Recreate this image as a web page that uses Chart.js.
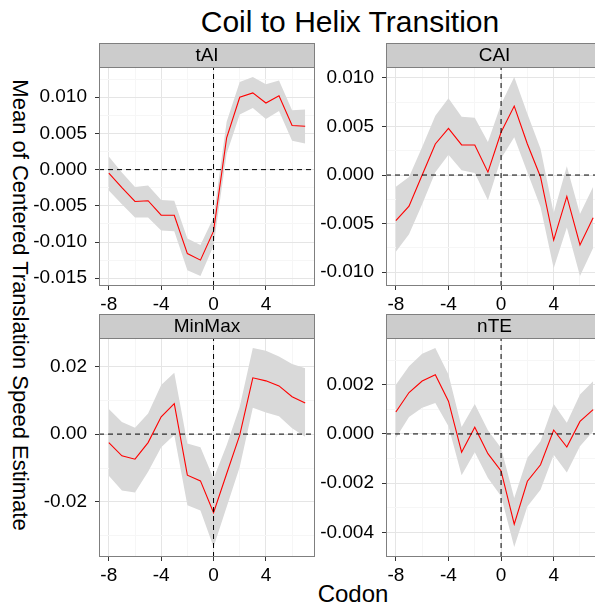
<!DOCTYPE html>
<html>
<head>
<meta charset="utf-8">
<script src="https://cdn.jsdelivr.net/npm/chart.js@4.4.0/dist/chart.umd.min.js"></script>
<style>
  html, body { margin: 0; padding: 0; background: #fff; }
  body { width: 595px; height: 606px; overflow: hidden; position: relative; }
  canvas { position: absolute; }
  .lbl { position: absolute; font-family: 'Liberation Sans', Arial, Helvetica, sans-serif; color: #000; white-space: nowrap; }
</style>
</head>
<body>
<div class="lbl" style="left:350px; top:7px; font-size:30px; line-height:30px; transform:translateX(-50%);">Coil to Helix Transition</div>
<div class="lbl" style="left:20px; top:305px; font-size:22px; line-height:22px; transform:translate(-50%,-50%) rotate(90deg);">Mean of Centered Translation Speed Estimate</div>
<div class="lbl" style="left:353px; top:582px; font-size:24px; line-height:24px; transform:translateX(-50%);">Codon</div>

<canvas id="pTAI"    width="315" height="272" style="left:0px;   top:42px;"></canvas>
<canvas id="pCAI"    width="287" height="272" style="left:316px; top:42px;"></canvas>
<canvas id="pMinMax" width="315" height="272" style="left:0px;   top:313px;"></canvas>
<canvas id="pNTE"    width="287" height="272" style="left:316px; top:313px;"></canvas>

<script>
// Codon positions relative to the transition point
const codons = [-8, -7, -6, -5, -4, -3, -2, -1, 0, 1, 2, 3, 4, 5, 6, 7];
const xTicks = [-8, -4, 0, 4];
const xTickLabels = ['-8', '-4', '0', '4'];

// tAI
const tAIMean  = [-0.0005, -0.0025, -0.0044, -0.0043, -0.0063, -0.0063, -0.0116, -0.0125, -0.0085, 0.0044, 0.0100, 0.0106, 0.0092, 0.0102, 0.0061, 0.0060];
const tAIUpper = [0.0018, -0.0004, -0.0024, -0.0022, -0.0042, -0.0043, -0.0095, -0.0104, -0.0066, 0.0066, 0.0121, 0.0128, 0.0118, 0.0123, 0.0082, 0.0083];
const tAILower = [-0.0029, -0.0048, -0.0066, -0.0066, -0.0084, -0.0085, -0.0139, -0.0147, -0.0105, 0.0022, 0.0076, 0.0085, 0.0070, 0.0081, 0.0040, 0.0036];
const tAITicks  = [-0.015, -0.010, -0.005, 0.000, 0.005, 0.010];
const tAILabels = ['-0.015', '-0.010', '-0.005', '0.000', '0.005', '0.010'];

// CAI
const CAIMean  = [-0.0047, -0.0032, 0.0000, 0.0032, 0.0048, 0.0031, 0.0031, 0.0003, 0.0044, 0.0071, 0.0032, -0.0002, -0.0067, -0.0022, -0.0072, -0.0044];
const CAIUpper = [-0.0012, -0.0002, 0.0029, 0.0061, 0.0079, 0.0060, 0.0059, 0.0034, 0.0073, 0.0101, 0.0063, 0.0027, -0.0039, 0.0009, -0.0040, -0.0012];
const CAILower = [-0.0079, -0.0061, -0.0030, 0.0003, 0.0021, 0.0005, 0.0002, -0.0026, 0.0017, 0.0039, 0.0003, -0.0033, -0.0096, -0.0054, -0.0104, -0.0075];
const CAITicks  = [-0.010, -0.005, 0.000, 0.005, 0.010];
const CAILabels = ['-0.010', '-0.005', '0.000', '0.005', '0.010'];

// MinMax
const minMaxMean  = [-0.0025, -0.0064, -0.0074, -0.0025, 0.0051, 0.0090, -0.0121, -0.0138, -0.0232, -0.0117, -0.0003, 0.0166, 0.0157, 0.0142, 0.0110, 0.0092];
const minMaxUpper = [0.0074, 0.0036, 0.0019, 0.0061, 0.0145, 0.0181, -0.0028, -0.0039, -0.0131, -0.0033, 0.0081, 0.0254, 0.0246, 0.0229, 0.0207, 0.0194];
const minMaxLower = [-0.0123, -0.0166, -0.0172, -0.0111, -0.0039, -0.0003, -0.0210, -0.0225, -0.0333, -0.0215, -0.0097, 0.0078, 0.0064, 0.0053, 0.0017, -0.0008];
const minMaxTicks  = [-0.02, 0.00, 0.02];
const minMaxLabels = ['-0.02', '0.00', '0.02'];

// nTE
const nTEMean  = [0.00089, 0.00168, 0.00215, 0.00240, 0.00133, -0.00074, 0.00027, -0.00080, -0.00150, -0.00366, -0.00192, -0.00125, 0.00016, -0.00053, 0.00051, 0.00099];
const nTEUpper = [0.00200, 0.00275, 0.00325, 0.00349, 0.00241, 0.00028, 0.00122, 0.00015, -0.00057, -0.00260, -0.00097, -0.00030, 0.00122, 0.00045, 0.00160, 0.00214];
const nTELower = [-0.00016, 0.00069, 0.00106, 0.00126, 0.00031, -0.00168, -0.00074, -0.00179, -0.00253, -0.00459, -0.00294, -0.00226, -0.00084, -0.00156, -0.00050, 0.00011];
const nTETicks  = [-0.004, -0.002, 0.000, 0.002];
const nTELabels = ['-0.004', '-0.002', '0.000', '0.002'];

const FONT = "'Liberation Sans', Arial, Helvetica, sans-serif";
const RIBBON = '#d9d9d9';
const GRID_MAJOR = '#e5e5e5';
const GRID_MINOR = '#f6f6f6';
const FRAME = '#7f7f7f';
const STRIP_FILL = '#cccccc';
const STRIP_H = 24;

// ggplot-style 5% padding on a continuous range
function expand(lo, hi) {
  const d = hi - lo;
  return [lo - 0.05 * d, hi + 0.05 * d];
}

// Major ticks carry a label, minor ticks sit halfway between them
function tickList(major, labels, lo, hi) {
  const step = major[1] - major[0];
  const out = major.map((v, i) => ({ value: v, lbl: labels[i], isMajor: true }));
  for (let v = major[0] - step / 2; v <= hi + 1e-12; v += step) {
    if (v >= lo - 1e-12) out.push({ value: v, lbl: '', isMajor: false });
  }
  return out.filter(t => t.value >= lo - 1e-12 && t.value <= hi + 1e-12).sort((a, b) => a.value - b.value);
}

// Facet strip above the panel plus the panel frame
const facetPlugin = {
  id: 'facet',
  afterDraw(chart, args, opts) {
    const a = chart.chartArea;
    const c = chart.ctx;
    c.save();
    c.fillStyle = STRIP_FILL;
    c.fillRect(a.left, a.top - STRIP_H, a.right - a.left, STRIP_H);
    c.strokeStyle = FRAME;
    c.lineWidth = 1;
    c.strokeRect(a.left + 0.5, a.top - STRIP_H + 0.5, a.right - a.left - 1, STRIP_H);
    c.strokeRect(a.left + 0.5, a.top + 0.5, a.right - a.left - 1, a.bottom - a.top - 1);
    c.fillStyle = '#000';
    c.font = '19px ' + FONT;
    c.textAlign = 'center';
    c.textBaseline = 'middle';
    c.fillText(opts.label, (a.left + a.right) / 2, a.top - STRIP_H / 2 + 1);
    c.restore();
  }
};

function makePanel(id, label, mean, upper, lower, yMajor, yLabels, axisWidth) {
  const [yMin, yMax] = expand(Math.min(...lower), Math.max(...upper));
  const [xMin, xMax] = expand(codons[0], codons[codons.length - 1]);
  const pts = arr => codons.map((c, i) => ({ x: c, y: arr[i] }));
  const xList = tickList(xTicks, xTickLabels, xMin, xMax);
  const yList = tickList(yMajor, yLabels, yMin, yMax);
  const gridColor = ctx => (ctx.tick && ctx.tick.isMajor) ? GRID_MAJOR : GRID_MINOR;
  const tickColor = ctx => (ctx.tick && ctx.tick.isMajor) ? '#333333' : 'rgba(0,0,0,0)';
  const dash = { borderColor: '#000', borderWidth: 1, borderDash: [5, 4], pointRadius: 0, fill: false };

  new Chart(document.getElementById(id), {
    type: 'line',
    data: {
      datasets: [
        { data: pts(upper), fill: '+1', backgroundColor: RIBBON, borderColor: 'rgba(0,0,0,0)', borderWidth: 0, pointRadius: 0, order: 5 },
        { data: pts(lower), fill: false, borderColor: 'rgba(0,0,0,0)', borderWidth: 0, pointRadius: 0, order: 4 },
        { data: pts(mean), borderColor: '#ff0000', borderWidth: 1.1, pointRadius: 0, fill: false, order: 3 },
        Object.assign({ data: [{ x: xMin, y: 0 }, { x: xMax, y: 0 }], order: 2 }, dash),
        Object.assign({ data: [{ x: 0, y: yMin }, { x: 0, y: yMax }], order: 1 }, dash)
      ]
    },
    options: {
      responsive: false,
      animation: false,
      devicePixelRatio: 1,
      layout: { autoPadding: false, padding: { top: 25, left: 0, right: 0, bottom: 0 } },
      plugins: { legend: { display: false }, tooltip: { enabled: false }, title: { display: false }, facet: { label } },
      elements: { line: { tension: 0 } },
      scales: {
        x: {
          type: 'linear', min: xMin, max: xMax,
          afterBuildTicks: s => { s.ticks = xList.map(t => Object.assign({}, t)); },
          afterFit: s => { s.height = 28; },
          border: { display: false },
          grid: { color: gridColor, lineWidth: 1, tickColor: tickColor, tickLength: 4, drawTicks: true },
          ticks: {
            autoSkip: false, maxRotation: 0, minRotation: 0, padding: 3, color: '#000',
            font: { family: FONT, size: 19 },
            callback: (v, i, ticks) => ticks[i].lbl
          }
        },
        y: {
          type: 'linear', min: yMin, max: yMax,
          afterBuildTicks: s => { s.ticks = yList.map(t => Object.assign({}, t)); },
          afterFit: s => { s.width = axisWidth; },
          border: { display: false },
          grid: { color: gridColor, lineWidth: 1, tickColor: tickColor, tickLength: 4, drawTicks: true },
          ticks: {
            autoSkip: false, padding: 8, color: '#000',
            font: { family: FONT, size: 19 },
            callback: (v, i, ticks) => ticks[i].lbl
          }
        }
      }
    },
    plugins: [facetPlugin]
  });
}

makePanel('pTAI', 'tAI', tAIMean, tAIUpper, tAILower, tAITicks, tAILabels, 99);
makePanel('pCAI', 'CAI', CAIMean, CAIUpper, CAILower, CAITicks, CAILabels, 70);
makePanel('pMinMax', 'MinMax', minMaxMean, minMaxUpper, minMaxLower, minMaxTicks, minMaxLabels, 99);
makePanel('pNTE', 'nTE', nTEMean, nTEUpper, nTELower, nTETicks, nTELabels, 70);
</script>
</body>
</html>
